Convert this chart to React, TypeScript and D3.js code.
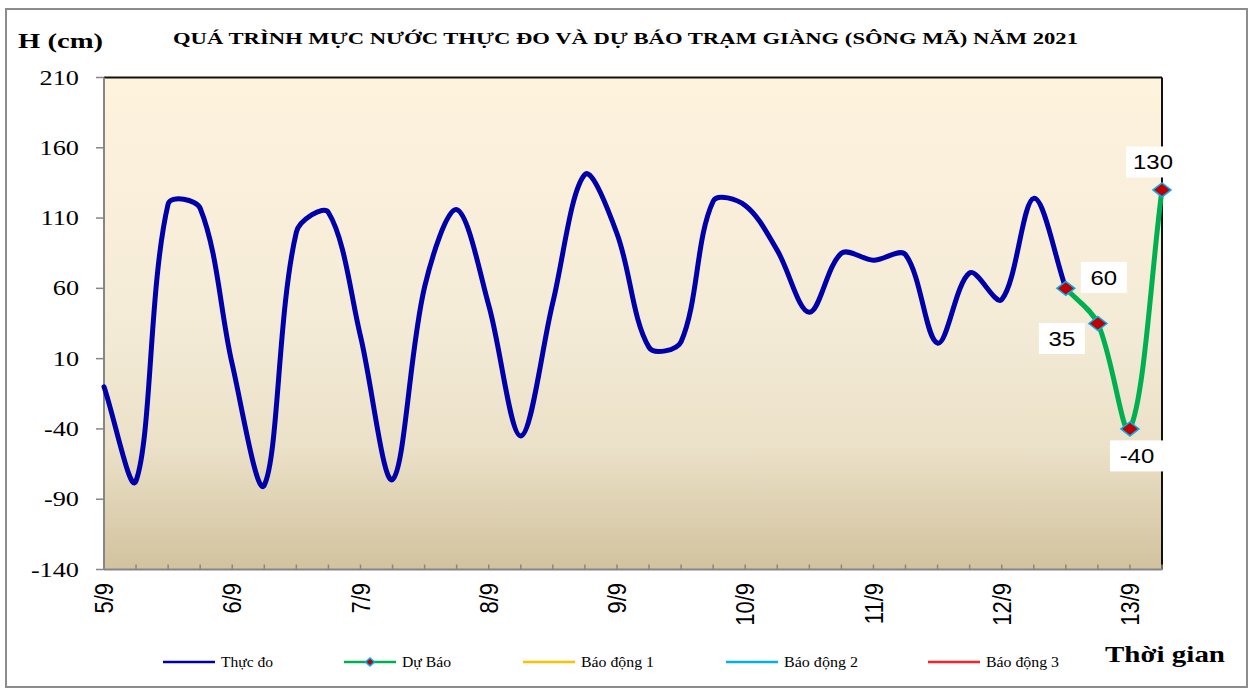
import React from "react";
import * as d3 from "d3";

// ---------- data ----------
const days = ["5/9", "6/9", "7/9", "8/9", "9/9", "10/9", "11/9", "12/9", "13/9"];
const stepsPerDay = 4;
const categoryCount = 34;
const observed = [
  -10, -77, 120, 117, 6, -80, 100, 114, 26, -76, 61, 116, 48, -45, 50, 141,
  99, 18, 22, 122, 119, 87, 43, 85, 80, 84, 21, 71, 52, 124, 60,
];
const forecastStart = 30;
const forecast = [60, 35, -40, 130];
const yTicks = [-140, -90, -40, 10, 60, 110, 160, 210];
const legendLabels = ["Thực đo", "Dự Báo", "Báo động 1", "Báo động 2", "Báo động 3"];
const titleText = "QUÁ TRÌNH  MỰC NƯỚC THỰC ĐO VÀ DỰ BÁO  TRẠM GIÀNG (SÔNG MÃ) NĂM 2021";

// ---------- style ----------
const W = 1251;
const H = 689;
const plot = { left: 104, right: 1162, top: 77.5, bottom: 569.5 };
const BLUE = "#0000AA";
const GREEN = "#00B050";
const legendColors = [BLUE, GREEN, "#FFC000", "#00B0F0", "#FF2020"];
const legendLineX = [163, 344, 523, 726, 928];
const legendTextW = [52, 49, 73, 74, 73];
const labelOffsets: [number, number][] = [
  [38, -11],
  [-36, 15],
  [7, 27],
  [-9, -28],
];
const SERIF = "'Liberation Serif','Times New Roman',serif";
const SANS = "'Liberation Sans',Arial,sans-serif";

// Excel-like smoothing curve (Bezier with distance-weighted tangents)
function excelSmooth(context: any) {
  let pts: [number, number][] = [];
  const dist = (a: number[], b: number[]) => Math.hypot(b[0] - a[0], b[1] - a[1]);
  return {
    areaStart() {},
    areaEnd() {},
    lineStart() {
      pts = [];
    },
    point(x: number, y: number) {
      pts.push([+x, +y]);
    },
    lineEnd() {
      const n = pts.length;
      if (!n) return;
      context.moveTo(pts[0][0], pts[0][1]);
      const f = 1 / 3;
      for (let i = 0; i < n - 1; i++) {
        const p0 = pts[Math.max(i - 1, 0)];
        const p1 = pts[i];
        const p2 = pts[i + 1];
        const p3 = pts[Math.min(i + 2, n - 1)];
        const d01 = dist(p0, p1);
        const d12 = dist(p1, p2);
        const d23 = dist(p2, p3);
        const a = d01 + d12 > 0 ? (f * d12) / (d01 + d12) : 0;
        const b = d12 + d23 > 0 ? (f * d12) / (d12 + d23) : 0;
        const c1x = p1[0] + a * (p2[0] - p0[0]);
        const c1y = p1[1] + a * (p2[1] - p0[1]);
        const c2x = p2[0] - b * (p3[0] - p1[0]);
        const c2y = p2[1] - b * (p3[1] - p1[1]);
        context.bezierCurveTo(c1x, c1y, c2x, c2y, p2[0], p2[1]);
      }
    },
  };
}

function diamond(cx: number, cy: number, w: number, h: number) {
  return `M${cx - w / 2},${cy}L${cx},${cy - h / 2}L${cx + w / 2},${cy}L${cx},${cy + h / 2}Z`;
}

export default function App() {
  const categories = d3.range(categoryCount);
  const x = d3.scalePoint<number>().domain(categories).range([plot.left, plot.right]);
  const y = d3.scaleLinear().domain([yTicks[0], yTicks[yTicks.length - 1]]).range([plot.bottom, plot.top]);
  const line = d3
    .line<[number, number]>()
    .x((d) => x(d[0]) as number)
    .y((d) => y(d[1]))
    .curve(excelSmooth as any);

  const obsPts: [number, number][] = observed.map((v, i) => [i, v]);
  const fcPts: [number, number][] = forecast.map((v, i) => [forecastStart + i, v]);

  const legendY = 662;

  return (
    <svg
      width={W}
      height={H}
      style={{ position: "absolute", left: 0, top: 0, background: "#fff" }}
    >
      <defs>
        <linearGradient id="bg" x1="0" y1="0" x2="0" y2="1">
          <stop offset="0" stopColor="#FEF3DD" />
          <stop offset="0.5" stopColor="#F4EBD7" />
          <stop offset="0.75" stopColor="#EBE1C8" />
          <stop offset="1" stopColor="#D2C29E" />
        </linearGradient>
      </defs>
      <rect x={0} y={0} width={W} height={H} fill="#fff" />
      <rect x={6} y={9} width={1241} height={678} fill="none" stroke="#8c8c8c" strokeWidth={2} />

      {/* plot area */}
      <rect
        x={plot.left}
        y={plot.top}
        width={plot.right - plot.left}
        height={plot.bottom - plot.top}
        fill="url(#bg)"
      />
      <line x1={plot.left} x2={plot.right} y1={plot.top} y2={plot.top} stroke="#111" strokeWidth={2} />
      <line x1={plot.right} x2={plot.right} y1={plot.top} y2={plot.bottom} stroke="#111" strokeWidth={2} />

      {/* y axis */}
      <line x1={plot.left} x2={plot.left} y1={plot.top} y2={plot.bottom} stroke="#868686" strokeWidth={2} />
      {yTicks.map((t) => (
        <g key={t}>
          <line x1={96} x2={plot.left} y1={y(t)} y2={y(t)} stroke="#868686" strokeWidth={1.5} />
          <text
            transform={`translate(79,${y(t) + 7}) scale(1.25,1)`}
            textAnchor="end"
            fontFamily={SERIF}
            fontSize={21}
            fill="#000"
          >
            {t}
          </text>
        </g>
      ))}

      {/* x axis */}
      <line x1={plot.left} x2={plot.right} y1={plot.bottom} y2={plot.bottom} stroke="#868686" strokeWidth={2} />
      {categories.slice(1).map((c) => (
        <line
          key={c}
          x1={x(c)}
          x2={x(c)}
          y1={plot.bottom}
          y2={plot.bottom - 5}
          stroke="#868686"
          strokeWidth={1.5}
        />
      ))}
      {days.map((d, i) => {
        const cx = x(i * stepsPerDay) as number;
        return (
          <text
            key={d}
            transform={`translate(${cx},583) scale(1.15,1) rotate(-90)`}
            textAnchor="end"
            dy="0.36em"
            fontFamily={SANS}
            fontSize={22}
            fill="#000"
          >
            {d}
          </text>
        );
      })}

      {/* series */}
      <path d={line(obsPts) || ""} fill="none" stroke={BLUE} strokeWidth={5} strokeLinejoin="round" strokeLinecap="round" />
      <path d={line(fcPts) || ""} fill="none" stroke={GREEN} strokeWidth={5} strokeLinejoin="round" strokeLinecap="round" />
      {fcPts.map((p) => (
        <path
          key={p[0]}
          d={diamond(x(p[0]) as number, y(p[1]), 18, 14)}
          fill="#C00000"
          stroke="#00B0F0"
          strokeWidth={1.5}
        />
      ))}
      {fcPts.map((p, i) => {
        const cx = (x(p[0]) as number) + labelOffsets[i][0];
        const cy = y(p[1]) + labelOffsets[i][1];
        const s = String(p[1]);
        const bw = 30 + 8 * s.length;
        return (
          <g key={"l" + p[0]}>
            <rect x={cx - bw / 2} y={cy - 15.5} width={bw} height={31} fill="#fff" />
            <text
              transform={`translate(${cx},${cy + 7.5}) scale(1.14,1)`}
              textAnchor="middle"
              fontFamily={SANS}
              fontSize={21}
              fill="#000"
            >
              {s}
            </text>
          </g>
        );
      })}

      {/* titles */}
      <text x={18} y={48} fontFamily={SERIF} fontWeight="bold" fontSize={22} textLength={85} lengthAdjust="spacingAndGlyphs">
        H (cm)
      </text>
      <text x={173} y={44} fontFamily={SERIF} fontWeight="bold" fontSize={16.5} textLength={905} lengthAdjust="spacingAndGlyphs">
        {titleText}
      </text>
      <text x={1105} y={662} fontFamily={SERIF} fontWeight="bold" fontSize={24} textLength={120} lengthAdjust="spacingAndGlyphs">
        Thời gian
      </text>

      {/* legend */}
      {legendLabels.map((lab, i) => {
        const lx = legendLineX[i];
        return (
          <g key={lab}>
            <line x1={lx} x2={lx + 52} y1={legendY} y2={legendY} stroke={legendColors[i]} strokeWidth={2.5} />
            {i === 1 && <path d={diamond(lx + 26, legendY, 9, 8)} fill="#C00000" stroke="#00B0F0" strokeWidth={1.5} />}
            <text
              x={lx + 58}
              y={legendY + 5}
              fontFamily={SERIF}
              fontSize={15}
              textLength={legendTextW[i]}
              lengthAdjust="spacingAndGlyphs"
              fill="#000"
            >
              {lab}
            </text>
          </g>
        );
      })}
    </svg>
  );
}
